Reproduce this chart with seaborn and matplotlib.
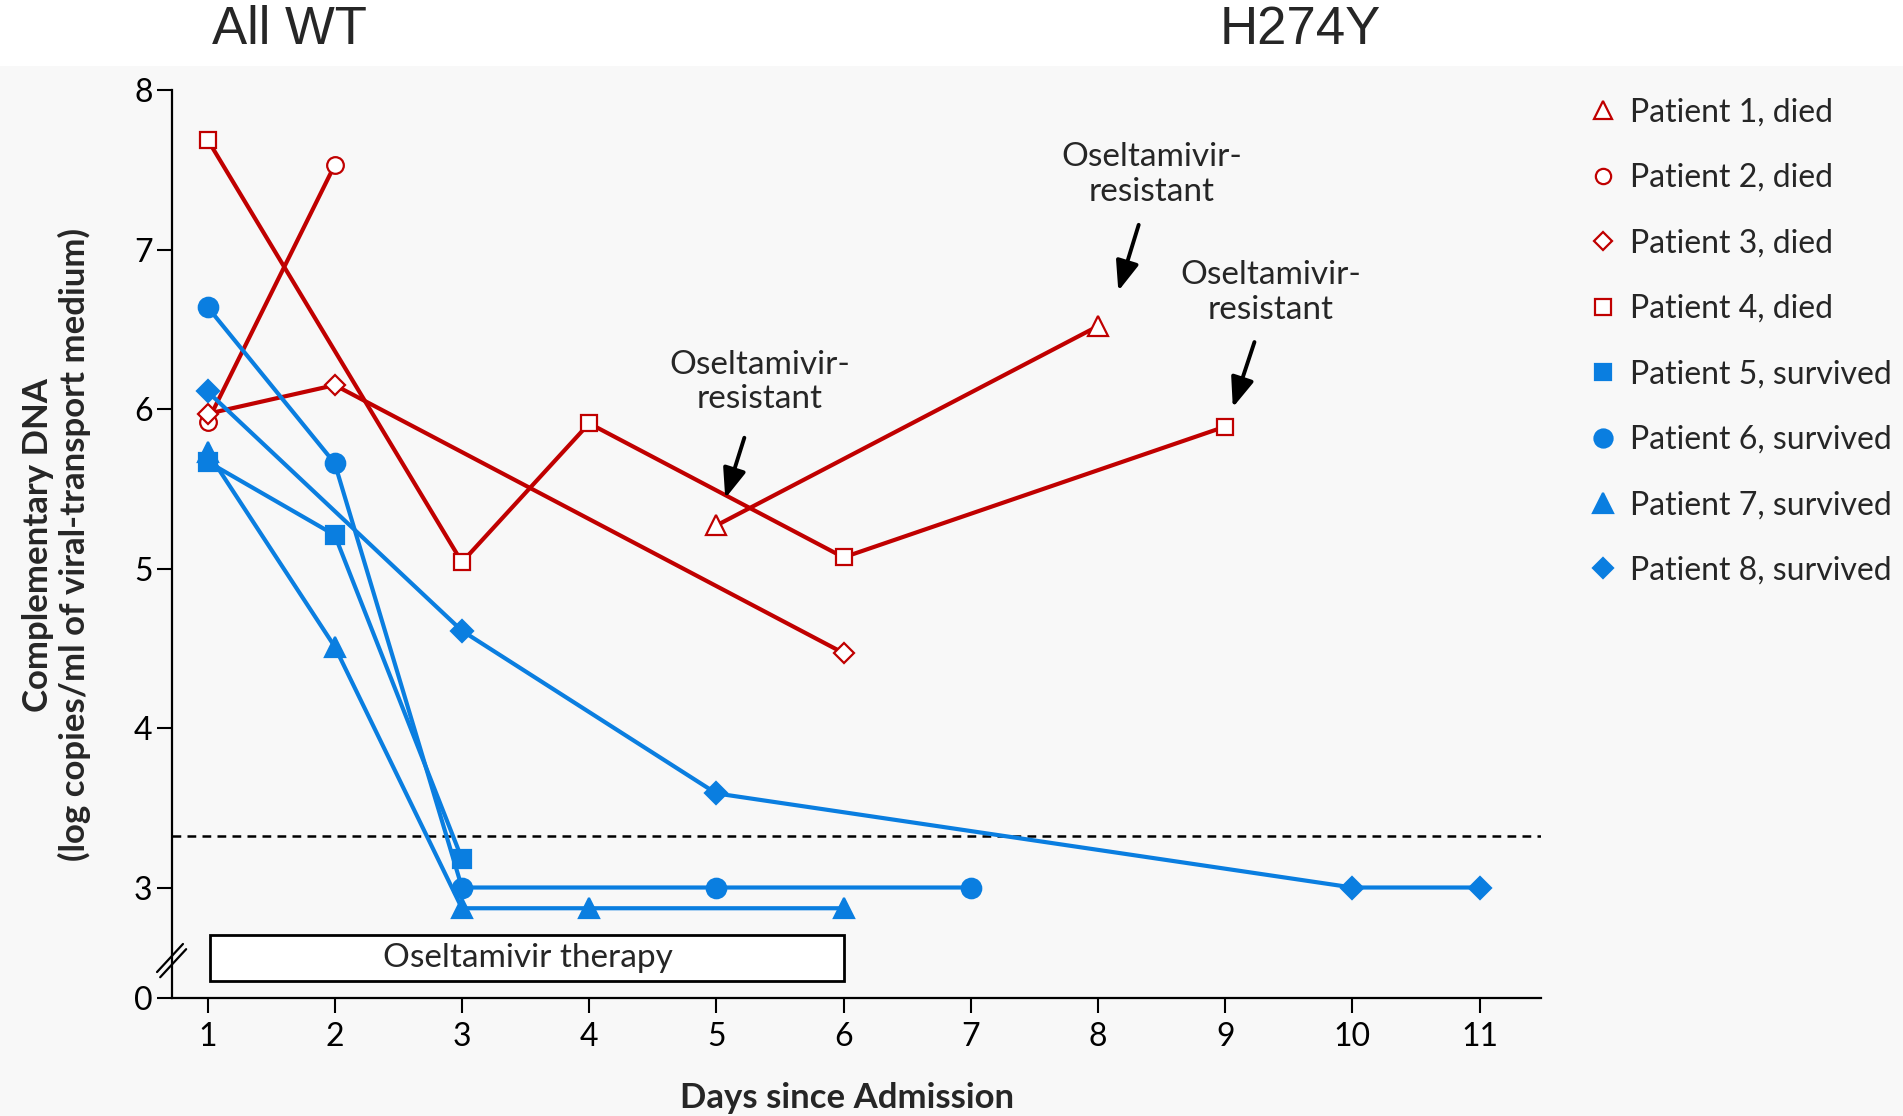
import pandas as pd
import matplotlib.pyplot as plt
import seaborn as sns
from matplotlib.lines import Line2D
from matplotlib.patches import Rectangle

# values
p1_days, p1_dna = [5, 8], [5.27, 6.52]
p2_days, p2_dna = [1, 2], [5.92, 7.53]
p3_days, p3_dna = [1, 2, 6], [5.97, 6.15, 4.47]
p4_days, p4_dna = [1, 3, 4, 6, 9], [7.69, 5.04, 5.91, 5.07, 5.89]
p5_days, p5_dna = [1, 2, 3], [5.67, 5.21, 3.18]
p6_days, p6_dna = [1, 2, 3, 5, 7], [6.64, 5.66, 3.0, 3.0, 3.0]
p7_days, p7_dna = [1, 2, 3, 4, 6], [5.73, 4.51, 2.87, 2.87, 2.87]
p8_days, p8_dna = [1, 3, 5, 10, 11], [6.11, 4.61, 3.59, 3.0, 3.0]

labels = ['Patient 1, died', 'Patient 2, died', 'Patient 3, died', 'Patient 4, died',
          'Patient 5, survived', 'Patient 6, survived', 'Patient 7, survived',
          'Patient 8, survived']
detection_limit = 3.32
day_ticks = list(range(1, 12))
dna_ticks = [3, 4, 5, 6, 7, 8]

RED = '#c00000'
BLUE = '#0a7ee0'
BG = '#f8f8f8'

sns.set_theme(style='ticks')
plt.rcParams['font.family'] = ['Lato', 'DejaVu Sans']

fig = plt.figure(figsize=(19.03, 11.16), dpi=100)
fig.patches.append(Rectangle((0, 0), 1, 0.9409, transform=fig.transFigure,
                             facecolor=BG, edgecolor='none', zorder=-10))
ax = fig.add_axes([0.0904, 0.1057, 0.7194, 0.8136])
ax.set_facecolor(BG)

# the y axis is broken below 3; the "0" sits at this position
y_zero = 2.307

series = [
    (p1_days, p1_dna, RED, '^', 14, 'white'),
    (p2_days, p2_dna, RED, 'o', 12, 'white'),
    (p3_days, p3_dna, RED, 'D', 10, 'white'),
    (p4_days, p4_dna, RED, 's', 12, 'white'),
    (p5_days, p5_dna, BLUE, 's', 13, BLUE),
    (p6_days, p6_dna, BLUE, 'o', 14, BLUE),
    (p7_days, p7_dna, BLUE, '^', 15, BLUE),
    (p8_days, p8_dna, BLUE, 'D', 11, BLUE),
]

handles = []
for (days, dna, col, mk, ms, fc), lab in zip(series, labels):
    df = pd.DataFrame({'day': days, 'dna': dna})
    sns.lineplot(data=df, x='day', y='dna', ax=ax, color=col, lw=3,
                 marker=mk, markersize=ms, markerfacecolor=fc,
                 markeredgecolor=col, markeredgewidth=1.6, legend=False,
                 zorder=3)
    handles.append(Line2D([], [], linestyle='none', marker=mk, markersize=ms - 1,
                          markerfacecolor=fc, markeredgecolor=col,
                          markeredgewidth=1.6, label=lab))

# limit of detection
ax.axhline(detection_limit, color='black', lw=1.8, ls=(0, (3.5, 2.5)), zorder=2)

# therapy box
ax.add_patch(Rectangle((1.02, 2.414), 4.98, 0.289, facecolor='white',
                       edgecolor='black', lw=2, zorder=2))
ax.text(3.52, 2.56, 'Oseltamivir therapy', ha='center', va='center', fontsize=24)

# resistance annotations
notes = [((5.34, 6.17), (5.22, 5.82), (5.07, 5.44)),
         ((8.42, 7.47), (8.32, 7.155), (8.16, 6.74)),
         ((9.36, 6.73), (9.23, 6.42), (9.06, 6.01))]
for (tx, ty), tail, head in notes:
    ax.text(tx, ty, 'Oseltamivir-\nresistant', ha='center', va='center',
            fontsize=24, linespacing=1.2)
    ax.annotate('', xy=head, xytext=tail,
                arrowprops=dict(arrowstyle='-|>,head_length=0.9,head_width=0.35',
                                color='black', lw=2.8, mutation_scale=20,
                                shrinkA=0, shrinkB=0))

# axis break marks
for dx in (0.0, 0.025):
    ax.plot([0.603 + dx, 0.807 + dx], [2.47 - dx * 1.3, 2.646 - dx * 1.3],
            color='black', lw=1.6, clip_on=False, zorder=5)

ax.set_xlim(0.721, 11.483)
ax.set_ylim(y_zero, 8)
ax.set_xticks(day_ticks)
ax.set_xticklabels([str(d) for d in day_ticks])
ax.set_yticks([y_zero] + dna_ticks)
ax.set_yticklabels(['0'] + [str(v) for v in dna_ticks])
ax.tick_params(axis='both', direction='out', length=11, width=1.5,
               labelsize=23, colors='black')
ax.tick_params(axis='y', pad=3)
ax.tick_params(axis='x', pad=6)
sns.despine(ax=ax)
for s in ('left', 'bottom'):
    ax.spines[s].set_linewidth(1.6)
    ax.spines[s].set_color('black')

ax.set_xlabel('Days since Admission', fontsize=25, fontweight='bold')
ax.xaxis.set_label_coords(0.493, -0.11)
ax.xaxis.label.set_va('center')
ax.set_ylabel('Complementary DNA\n(log copies/ml of viral-transport medium)',
              fontsize=25, fontweight='bold', linespacing=1.15)
ax.yaxis.set_label_coords(-0.0844, 0.499)
ax.yaxis.label.set_va('center')

fig.legend(handles=handles, loc='upper left', bbox_to_anchor=(0.8274, 0.927),
           frameon=False, fontsize=23, handlelength=0.8, handletextpad=0.45,
           labelspacing=1.11, borderpad=0)

fig.text(289 / 1903, 1 - 30 / 1116, 'All WT', ha='center', va='center',
         fontsize=38, family='Liberation Sans')
fig.text(1300 / 1903, 1 - 30 / 1116, 'H274Y', ha='center', va='center',
         fontsize=38, family='Liberation Sans')

fig.savefig('out.png', dpi=100)
